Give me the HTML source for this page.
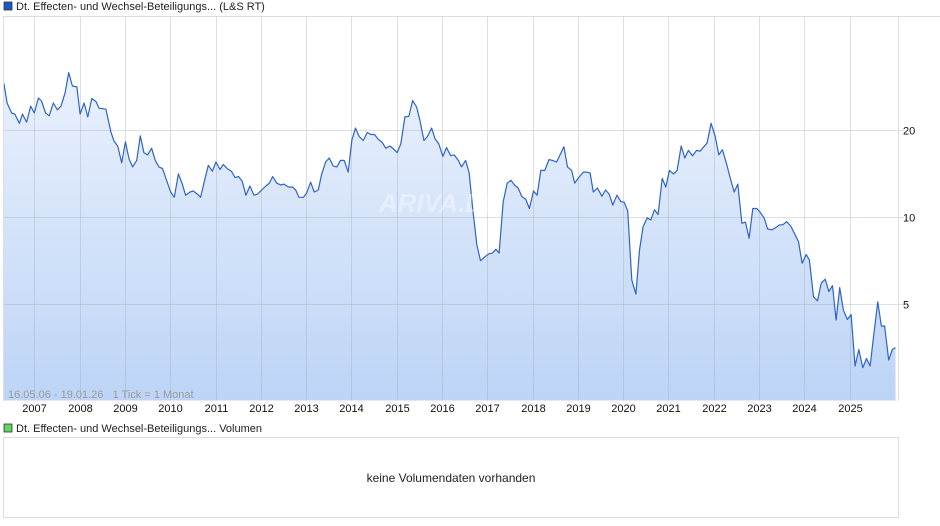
<!DOCTYPE html>
<html><head><meta charset="utf-8">
<style>
body{margin:0;background:#fff;font-family:"Liberation Sans",Arial,sans-serif;}
svg{display:block}
</style></head>
<body>
<svg id="chart" width="940" height="526" xmlns="http://www.w3.org/2000/svg" font-family="Liberation Sans, Arial, sans-serif">
<defs>
<linearGradient id="fillg" x1="0" y1="0" x2="0" y2="1">
<stop offset="0" stop-color="#eaf1fd"/>
<stop offset="1" stop-color="#bdd4f6"/>
</linearGradient>
</defs>
<rect x="4" y="2" width="8" height="8" fill="#1c57c0" stroke="#333" stroke-width="0.8"/>
<text x="16" y="10" font-size="11" fill="#222">Dt. Effecten- und Wechsel-Beteiligungs... (L&amp;S RT)</text>
<g id="grid"></g>
<g id="plot"></g>
<line x1="3" y1="16.5" x2="940" y2="16.5" stroke="#ddd"/>
<line x1="3.5" y1="16" x2="3.5" y2="401" stroke="#ddd"/>
<line x1="898.5" y1="16" x2="898.5" y2="401" stroke="#ddd"/>
<text x="440" y="212" font-size="26" font-style="italic" font-weight="bold" fill="#ffffff" fill-opacity="0.35" text-anchor="middle">ARIVA.DE</text>
<text x="8" y="398" font-size="11" fill="#9a9a9a" xml:space="preserve" style="white-space:pre">16.05.06 - 19.01.26   1 Tick = 1 Monat</text>
<g id="xlabels"></g>
<g id="ylabels"></g>
<rect x="4" y="424" width="8" height="8" fill="#5ed35e" stroke="#333" stroke-width="0.8"/>
<text x="16" y="432" font-size="11" fill="#222">Dt. Effecten- und Wechsel-Beteiligungs... Volumen</text>
<rect x="3.5" y="437.5" width="895" height="80" fill="#fff" stroke="#ddd"/>
<text x="451" y="482" font-size="12" fill="#222" text-anchor="middle">keine Volumendaten vorhanden</text>
</svg>
<script>
const dates=[2006.33,2006.40,2006.50,2006.57,2006.67,2006.74,2006.83,2006.92,2007.00,2007.09,2007.16,2007.25,2007.33,2007.42,2007.51,2007.59,2007.68,2007.76,2007.84,2007.94,2008.01,2008.10,2008.18,2008.27,2008.36,2008.43,2008.58,2008.69,2008.76,2008.84,2008.93,2009.01,2009.09,2009.17,2009.26,2009.34,2009.42,2009.50,2009.59,2009.67,2009.75,2009.83,2009.92,2010.01,2010.09,2010.18,2010.26,2010.34,2010.44,2010.51,2010.60,2010.67,2010.76,2010.84,2010.93,2011.01,2011.10,2011.17,2011.26,2011.35,2011.43,2011.51,2011.59,2011.67,2011.76,2011.85,2011.93,2012.02,2012.11,2012.19,2012.26,2012.35,2012.44,2012.51,2012.61,2012.70,2012.77,2012.84,2012.94,2013.01,2013.10,2013.18,2013.27,2013.34,2013.43,2013.51,2013.60,2013.68,2013.76,2013.84,2013.93,2014.01,2014.09,2014.17,2014.26,2014.35,2014.43,2014.51,2014.59,2014.68,2014.76,2014.85,2014.93,2015.01,2015.09,2015.18,2015.27,2015.35,2015.44,2015.51,2015.60,2015.68,2015.77,2015.85,2015.93,2016.02,2016.10,2016.19,2016.27,2016.36,2016.43,2016.52,2016.60,2016.68,2016.77,2016.85,2016.95,2017.03,2017.11,2017.19,2017.26,2017.35,2017.44,2017.52,2017.60,2017.68,2017.76,2017.85,2017.93,2018.02,2018.10,2018.18,2018.27,2018.36,2018.44,2018.53,2018.69,2018.77,2018.86,2018.93,2019.02,2019.12,2019.19,2019.27,2019.34,2019.43,2019.53,2019.61,2019.69,2019.77,2019.86,2019.95,2020.02,2020.10,2020.19,2020.28,2020.36,2020.44,2020.53,2020.61,2020.69,2020.77,2020.86,2020.94,2021.02,2021.11,2021.19,2021.28,2021.36,2021.44,2021.53,2021.62,2021.70,2021.78,2021.85,2021.94,2022.03,2022.11,2022.19,2022.28,2022.36,2022.45,2022.53,2022.62,2022.70,2022.78,2022.86,2022.95,2023.02,2023.11,2023.19,2023.28,2023.37,2023.45,2023.52,2023.61,2023.70,2023.78,2023.87,2023.95,2024.04,2024.11,2024.20,2024.29,2024.37,2024.46,2024.54,2024.62,2024.70,2024.78,2024.86,2024.95,2025.03,2025.12,2025.20,2025.29,2025.37,2025.45,2025.53,2025.62,2025.70,2025.77,2025.86,2025.94,2026.01];
const prices=[29.0,24.8,22.9,22.7,21.1,22.7,21.3,24.2,22.9,25.8,25.2,22.9,22.4,24.8,23.5,24.2,26.9,31.6,28.4,28.2,22.7,24.8,22.2,25.7,25.1,23.8,23.6,19.7,18.3,17.6,15.4,18.2,15.9,14.9,15.7,19.1,16.7,16.4,17.3,15.7,14.9,14.7,13.4,12.2,11.7,14.1,13.1,11.9,12.2,12.3,12.0,11.7,13.4,15.1,14.4,15.5,14.6,15.2,14.7,14.4,13.7,13.8,13.3,11.9,12.8,11.9,12.0,12.4,12.8,13.1,13.8,13.1,12.9,13.0,12.7,12.7,12.4,11.7,11.7,12.1,13.2,12.2,12.4,14.0,15.5,16.0,15.0,14.9,15.7,15.7,14.3,18.5,20.3,19.0,18.4,19.6,19.3,19.3,18.6,18.1,17.3,17.6,17.2,16.7,17.9,22.2,22.3,25.3,24.0,21.7,18.4,19.0,20.3,18.6,17.9,16.2,17.4,16.3,16.4,15.7,14.9,15.7,14.2,10.6,8.0,7.06,7.29,7.45,7.5,7.73,7.5,11.3,13.1,13.4,12.9,12.6,11.8,11.5,10.7,12.3,11.9,14.5,14.5,15.8,15.7,15.5,17.5,14.9,14.5,13.1,13.7,14.3,14.3,14.2,12.2,12.6,11.8,12.4,12.0,11.0,11.9,11.3,11.25,10.5,6.05,5.41,7.69,9.26,9.94,9.77,10.6,10.2,13.6,12.7,14.5,14.1,14.5,17.6,16.0,17.0,16.3,17.0,16.9,17.5,18.0,21.1,19.0,16.4,17.1,15.3,13.7,12.2,13.0,9.51,9.6,8.44,10.7,10.7,10.4,9.94,9.09,9.03,9.2,9.4,9.4,9.64,9.3,8.78,8.22,6.92,7.42,7.10,5.30,5.13,5.90,6.09,5.52,5.79,4.40,5.7,4.76,4.42,4.60,3.05,3.48,3.01,3.24,3.05,3.90,5.09,4.19,4.2,3.20,3.48,3.53];
const yearTicks=[2007,2008,2009,2010,2011,2012,2013,2014,2015,2016,2017,2018,2019,2020,2021,2022,2023,2024,2025];
const valueTicks=[5,10,20];

const NS="http://www.w3.org/2000/svg";
const X0=3.5,X1=898,Y0=16,Y1=400.5;
function xScale(t){return 34.3+(t-2007)*45.3;}
function yScale(v){return 130-87*Math.log2(v/20);}
function mk(tag,attrs,parent){const e=document.createElementNS(NS,tag);for(const k in attrs)e.setAttribute(k,attrs[k]);parent.appendChild(e);return e;}

const plot=document.getElementById('plot');
let d='';
dates.forEach((t,i)=>{d+=(i?'L':'M')+xScale(t).toFixed(1)+','+yScale(prices[i]).toFixed(1);});
const area=mk('path',{d:d+'L'+xScale(dates[dates.length-1]).toFixed(1)+','+Y1+'L'+xScale(dates[0]).toFixed(1)+','+Y1+'Z',fill:'url(#fillg)'},plot);



const xl=document.getElementById('xlabels');
yearTicks.forEach(y=>{
  const x=Math.round(xScale(y))+0.5;
  const g=mk('line',{x1:x,y1:Y0,x2:x,y2:Y1,stroke:'#9aa5b5','stroke-opacity':'0.35'},plot);
  
  
  const tx=mk('text',{x:x,y:412,'font-size':'11',fill:'#111','text-anchor':'middle'},xl);
  tx.textContent=y;
  
  
});
const yl=document.getElementById('ylabels');
valueTicks.forEach(v=>{
  const y=Math.round(yScale(v))+0.5;
  const g=mk('line',{x1:X0,y1:y,x2:X1+6,y2:y,stroke:'#9aa5b5','stroke-opacity':'0.35'},plot);
  
  
  const tx=mk('text',{x:903,y:y+4,'font-size':'11',fill:'#111'},yl);
  tx.textContent=v;
  
  
});
const line=mk('path',{d:d,fill:'none',stroke:'#2e63c8','stroke-width':'1.2','stroke-linejoin':'round'},plot);


</script>
</body></html>
